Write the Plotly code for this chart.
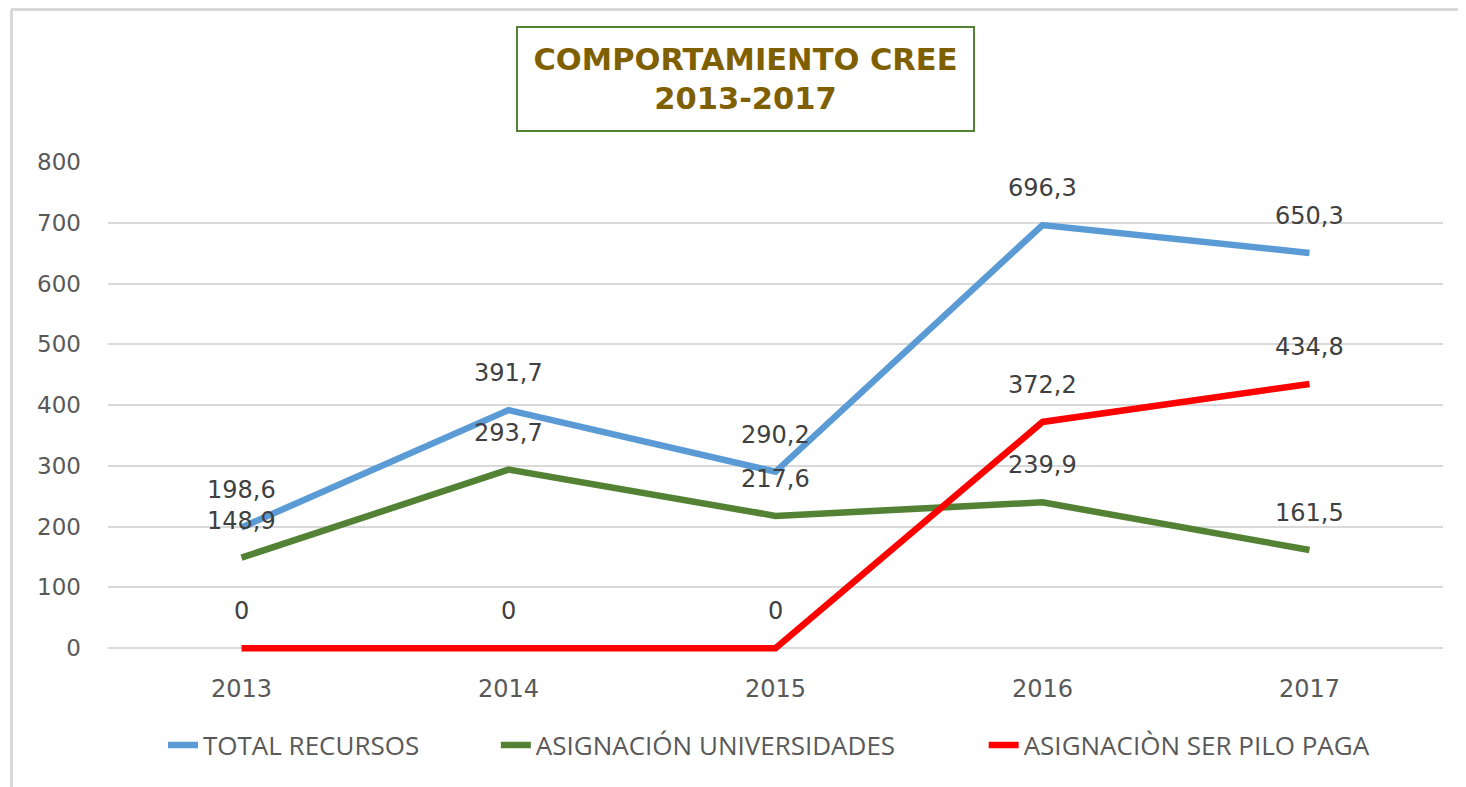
import plotly.graph_objects as go

years = [2013, 2014, 2015, 2016, 2017]
total_recursos = [198.6, 391.7, 290.2, 696.3, 650.3]
asig_univ = [148.9, 293.7, 217.6, 239.9, 161.5]
asig_spp = [0, 0, 0, 372.2, 434.8]
y_ticks = [0, 100, 200, 300, 400, 500, 600, 700, 800]

series = [
    ("TOTAL RECURSOS", total_recursos, "#5B9BD5"),
    ("ASIGNACIÓN UNIVERSIDADES", asig_univ, "#548235"),
    ("ASIGNACIÒN SER PILO PAGA", asig_spp, "#FF0000"),
]

def fmt(v):
    s = f"{v:.1f}".replace(".", ",")
    if s.endswith(",0"):
        s = s[:-2]
    return s

# page body has an 8px margin, so the figure is laid out 8px smaller
W, H = 1458, 779
Y_MIN, Y_MAX = -8, 800
SCALE = 486 / 800.0
L, T = 100, 154
PW, PH = 1335.5, (Y_MAX - Y_MIN) * SCALE
R = W - L - PW
B = H - T - PH

def px(xf):
    return (xf - L) / PW

def py(yf):
    return (T + PH - yf) / PH

legend_names = ["legend", "legend2", "legend3"]
legend_x = [155, 488, 976]

fig = go.Figure()
for (name, vals, col), lg in zip(series, legend_names):
    fig.add_trace(go.Scatter(x=years, y=vals, name=name, mode="lines",
                             line=dict(color=col, width=6.5), legend=lg))

annotations = []
for name, vals, col in series:
    for x, v in zip(years, vals):
        annotations.append(dict(x=x, y=v, xref="x", yref="y", text=fmt(v),
                                showarrow=False, yshift=37,
                                font=dict(family="DejaVu Sans", size=24, color="#404040")))

annotations.append(dict(
    x=px(737.5), y=py(71), xref="paper", yref="paper",
    xanchor="center", yanchor="middle", showarrow=False,
    text="<b>COMPORTAMIENTO CREE<br>2013-2017</b>",
    font=dict(family="DejaVu Sans", size=30.5, color="#7F6000"),
    bordercolor="#548235", borderwidth=2, borderpad=4,
    width=447, height=94, bgcolor="white"))

legend_common = dict(orientation="h", yanchor="middle", xanchor="left",
                     font=dict(family="Open Sans", size=26, color="#595959"),
                     bgcolor="rgba(0,0,0,0)", itemwidth=30)

fig.update_layout(
    width=W, height=H,
    margin=dict(l=L, r=R, t=T, b=B, autoexpand=False),
    paper_bgcolor="white", plot_bgcolor="white",
    showlegend=True,
    legend=dict(x=px(legend_x[0]), y=py(737), **legend_common),
    legend2=dict(x=px(legend_x[1]), y=py(737), **legend_common),
    legend3=dict(x=px(legend_x[2]), y=py(737), **legend_common),
    annotations=annotations,
    shapes=[
        dict(type="line", xref="paper", yref="paper",
             x0=px(3), x1=px(W + 10), y0=py(1.5), y1=py(1.5),
             line=dict(color="#D9D9D9", width=3)),
        dict(type="line", xref="paper", yref="paper",
             x0=px(3.5), x1=px(3.5), y0=py(1.5), y1=py(H + 10),
             line=dict(color="#D9D9D9", width=3)),
    ],
)
fig.update_xaxes(type="linear", range=[2012.5, 2017.5], tickvals=years,
                 ticktext=[str(y) for y in years],
                 showgrid=False, showline=False, zeroline=False,
                 ticks="", ticklabelstandoff=19,
                 tickfont=dict(family="DejaVu Sans", size=24, color="#595959"))
fig.update_yaxes(range=[Y_MIN, Y_MAX], tickvals=y_ticks, showgrid=True, gridcolor="#D9D9D9",
                 gridwidth=2, zeroline=True, zerolinecolor="#D9D9D9", zerolinewidth=2,
                 showline=False, ticks="", ticklabelstandoff=26,
                 tickfont=dict(family="DejaVu Sans", size=23, color="#595959"))

fig.write_html("out.html")
